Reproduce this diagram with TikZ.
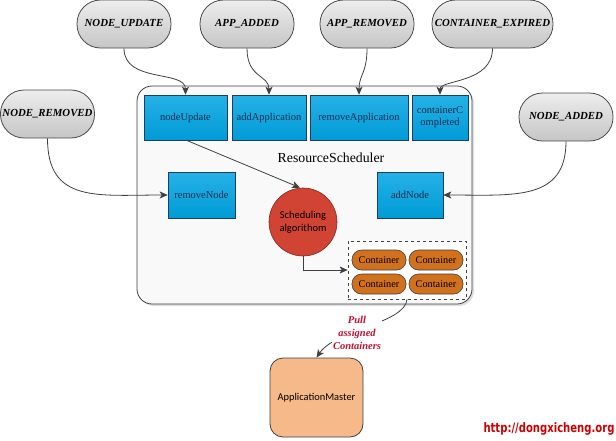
\documentclass[tikz,border=0pt]{standalone}
\usepackage{fontspec}
\setmainfont{Liberation Serif}
\newfontfamily\calfont{Carlito}
\newfontfamily\wmfont{DejaVu Sans Condensed}
\usetikzlibrary{arrows.meta,shadows}
\definecolor{evline}{HTML}{4A4A4A}
\definecolor{boxblue}{HTML}{00A3E2}
\definecolor{boxline}{HTML}{1C3D66}
\definecolor{algred}{HTML}{D14433}
\definecolor{ctorange}{HTML}{D2711D}
\definecolor{ampeach}{HTML}{F6B98A}
\definecolor{pullred}{HTML}{C8102E}
\definecolor{lnk}{HTML}{404040}
\begin{document}
\begin{tikzpicture}[x=1pt,y=-1pt,
	event/.style={draw=evline, line width=0.8pt, top color=gray!14, bottom color=gray!45,
		rounded corners=23.5pt, minimum width=94pt, minimum height=48pt, inner sep=0pt,
		font=\bfseries\itshape\fontsize{10.8}{12}\selectfont},
	handler/.style={draw=boxline, line width=0.6pt, top color=boxblue!85, bottom color=boxblue!95!black,
		minimum height=45pt, inner sep=1pt, align=center,
		font=\fontsize{10.5}{12}\selectfont, text=boxline!70!black},
	sched/.style={draw=lnk, line width=0.8pt, fill=gray!5, rounded corners=15pt,
		drop shadow={opacity=0.25, shadow xshift=2pt, shadow yshift=-2pt}},
	container/.style={draw=lnk, line width=0.6pt, fill=ctorange, rounded corners=9.5pt,
		minimum width=54pt, minimum height=20pt, inner sep=0pt, font=\fontsize{10.3}{11}\selectfont},
	link/.style={draw=lnk, line width=0.8pt, -{Stealth[length=8pt,width=7pt,inset=2pt]}}]
	\useasboundingbox (0,0) rectangle (616,440);
	% events
	\node[event] (nupd) at (124,24) {NODE\_UPDATE};
	\node[event] (aadd) at (247,24) {APP\_ADDED};
	\node[event] (arem) at (367,24) {APP\_REMOVED};
	\node[event, minimum width=121pt] (cexp) at (492.5,24) {CONTAINER\_EXPIRED};
	\node[event] (nrem) at (47.5,114) {NODE\_REMOVED};
	\node[event] (nadd) at (566,117) {NODE\_ADDED};
	% scheduler
	\node[sched, minimum width=335pt, minimum height=218pt] (rs) at (304.5,195) {};
	\node[font=\fontsize{13.8}{15}\selectfont] (rstitle) at (331,158) {ResourceScheduler};
	\node[handler, minimum width=83pt] (hupd) at (185.5,117.5) {nodeUpdate};
	\node[handler, minimum width=74pt] (hadd) at (269,117.5) {addApplication};
	\node[handler, minimum width=98pt] (hrem) at (359,117.5) {removeApplication};
	\node[handler, minimum width=56pt] (hcomp) at (440,117.5) {containerC\\ompleted};
	\node[handler, minimum width=67pt, minimum height=46pt] (hnrem) at (201.5,195) {removeNode};
	\node[handler, minimum width=66pt, minimum height=46pt] (hnadd) at (410,195) {addNode};
	\node[circle, draw=algred!60!black, line width=0.6pt, fill=algred, minimum size=68pt,
		inner sep=0pt, align=center, font=\calfont\fontsize{10.5}{13}\selectfont] (alg) at (303,222)
		{Scheduling\\algorithom};
	\node[draw=lnk, dashed, line width=0.7pt, fill=white, minimum width=118pt, minimum height=58pt] (pool) at (407,270) {};
	\node[container] (c1) at (379,260) {Container};
	\node[container] (c2) at (436,260) {Container};
	\node[container] (c3) at (379,284) {Container};
	\node[container] (c4) at (436,284) {Container};
	% application master
	\node[draw=lnk, line width=0.8pt, fill=ampeach, rounded corners=13pt, minimum width=93pt,
		minimum height=79pt, font=\calfont\fontsize{10.4}{12}\selectfont] (am) at (316.5,397.5) {ApplicationMaster};
	% connectors
	\draw[link] (nupd.south) .. controls +(0,35) and +(0,-25) .. (hupd.north);
	\draw[link] (aadd.south) .. controls +(0,30) and +(0,-20) .. (hadd.north);
	\draw[link] (arem.south) .. controls +(0,25) and +(0,-20) .. (hrem.north);
	\draw[link] (cexp.south) .. controls +(0,35) and +(0,-15) .. (hcomp.north);
	\draw[link] (nrem.south) .. controls +(0,65) and +(-70,0) .. (hnrem.west);
	\draw[link] (nadd.south) .. controls +(0,60) and +(70,0) .. (hnadd.east);
	\draw[link] ([xshift=1pt]hupd.south) -- ([xshift=-3pt]alg.north);
	\draw[link] (alg.south) |- (pool.west);
	\draw[link] (pool.south) .. controls +(-2,24) and +(19,-28) .. (am.north);
	\node[fill=white, inner sep=1pt, align=center, text=pullred,
		font=\bfseries\itshape\fontsize{10.5}{13}\selectfont] (pull) at (357,333) {Pull\\assigned\\Containers};
	% watermark
	\node[text=red!80!black, font=\wmfont\bfseries\fontsize{13}{15}\selectfont] (url) at (549,429)
		{\scalebox{0.86}[1]{http://dongxicheng.org}};
\end{tikzpicture}
\end{document}
